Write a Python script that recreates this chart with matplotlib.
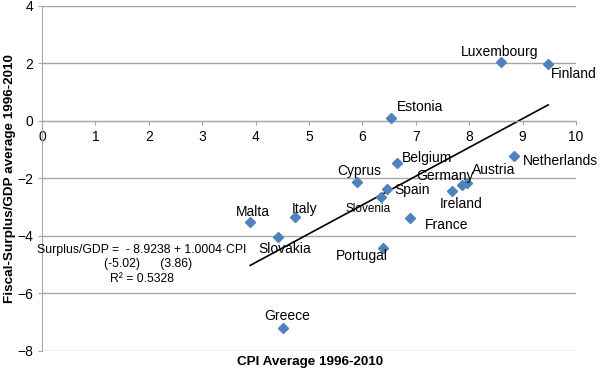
import matplotlib
matplotlib.use("Agg")
import matplotlib.pyplot as plt
import numpy as np

plt.rcParams['font.family'] = ['Liberation Sans', 'DejaVu Sans']

countries = ["Luxembourg", "Finland", "Estonia", "Belgium", "Netherlands",
             "Austria", "Germany", "Ireland", "Cyprus", "Spain", "Slovenia",
             "France", "Italy", "Malta", "Slovakia", "Portugal", "Greece"]
cpi = [8.60, 9.48, 6.54, 6.65, 8.84, 7.96, 7.87, 7.68, 5.90, 6.46, 6.35,
       6.89, 4.74, 3.90, 4.42, 6.39, 4.51]
surplus = [2.05, 1.98, 0.10, -1.46, -1.22, -2.16, -2.23, -2.43, -2.12, -2.37,
           -2.64, -3.37, -3.34, -3.51, -4.03, -4.42, -7.20]

# regression from the chart
intercept = -8.9238
slope = 1.0004

# label offsets in pixels (left edge, vertical centre)
offsets = {
    "Luxembourg": (-40, 10), "Finland": (3, -10), "Estonia": (6, 11),
    "Belgium": (5, 5), "Netherlands": (9, -5), "Austria": (5, 13),
    "Germany": (-46, 9), "Ireland": (-12, -13), "Cyprus": (-20, 11),
    "Spain": (7, -1), "Slovenia": (-36, -12), "France": (15, -7),
    "Italy": (-3, 8), "Malta": (-14, 10), "Slovakia": (-20, -12),
    "Portugal": (-47, -8), "Greece": (-19, 12),
}

fig = plt.figure(figsize=(6, 3.72), dpi=100)
ax = fig.add_axes([0.07, 0.0565, 0.89, 0.9275])

ax.plot(cpi, surplus, 'D', color='#4F81BD', ms=5, zorder=3)
ax.plot(cpi, surplus, 'P', color='#4F81BD', ms=6, mew=0, zorder=3)

xs = np.array([min(cpi), max(cpi)])
ax.plot(xs, intercept + slope * xs, color='black', lw=1.2, zorder=2)

for name, x, y in zip(countries, cpi, surplus):
    dx, dy = offsets[name]
    fs = 8.5 if name == "Slovenia" else 10
    ax.annotate(name, (x, y), xytext=(dx, dy), textcoords='offset pixels',
                ha='left', va='center', fontsize=fs)

ax.set_xlim(0, 10)
ax.set_ylim(-8, 4)
ax.set_xticks(range(0, 11))
ax.set_yticks(range(-8, 5, 2))
ax.yaxis.grid(True, color='#a6a6a6', lw=1)
ax.set_axisbelow(True)

ax.spines['bottom'].set_position(('data', 0))
ax.spines['top'].set_visible(False)
ax.spines['right'].set_visible(False)
ax.spines['bottom'].set_color('#a6a6a6')
ax.spines['left'].set_color('#a6a6a6')
ax.tick_params(axis='both', colors='#a6a6a6', labelcolor='black',
               labelsize=10, length=3)

ax.text(-0.09, -4.5, "Surplus/GDP =  - 8.9238 + 1.0004\u00b7CPI",
        fontsize=8.8, ha='left', va='center')
ax.text(1.16, -4.98, "(-5.02)      (3.86)", fontsize=8.8, ha='left', va='center')
ax.text(1.27, -5.5, "R\u00b2 = 0.5328", fontsize=8.8, ha='left', va='center')

fig.text(0.517, 0.027, "CPI Average 1996-2010", fontsize=9.7, fontweight='bold',
         ha='center', va='center')
fig.text(0.017, 0.52, "Fiscal-Surplus/GDP average 1996-2010", fontsize=9.7,
         fontweight='bold', rotation=90, ha='center', va='center')

fig.savefig("out.png", dpi=100)
